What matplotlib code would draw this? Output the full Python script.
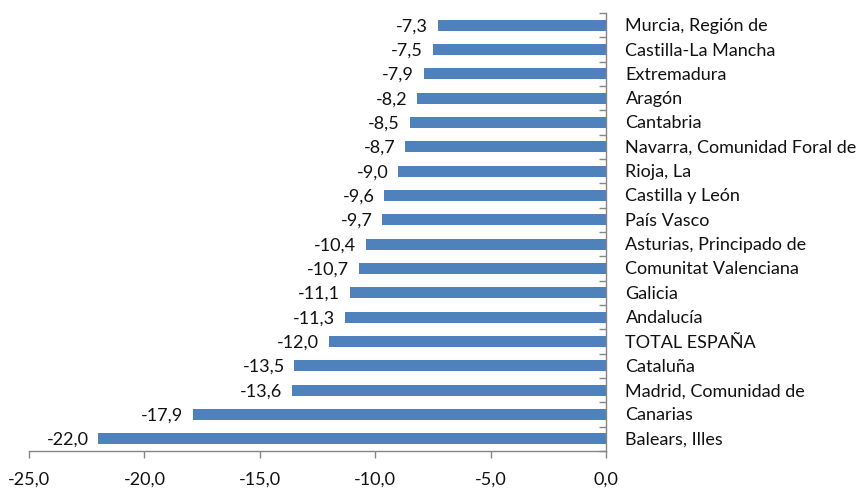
import matplotlib.pyplot as plt
import numpy as np

regions = ["Murcia, Región de", "Castilla-La Mancha", "Extremadura", "Aragón", "Cantabria",
           "Navarra, Comunidad Foral de", "Rioja, La", "Castilla y León", "País Vasco",
           "Asturias, Principado de", "Comunitat Valenciana", "Galicia", "Andalucía",
           "TOTAL ESPAÑA", "Cataluña", "Madrid, Comunidad de", "Canarias", "Balears, Illes"]
values = [-7.3, -7.5, -7.9, -8.2, -8.5, -8.7, -9.0, -9.6, -9.7,
          -10.4, -10.7, -11.1, -11.3, -12.0, -13.5, -13.6, -17.9, -22.0]
xticks = [-25, -20, -15, -10, -5, 0]

plt.rcParams['font.family'] = ['Lato', 'DejaVu Sans']
fs = 13

fig = plt.figure(figsize=(8.57, 4.89), dpi=100)
ax = fig.add_axes([29/857, 1 - 452/489, (606 - 29)/857, (452 - 14)/489])

n = len(regions)
y = np.arange(n)
ax.barh(y, values, height=0.46, color='#4F81BD', zorder=2)
ax.set_ylim(n - 0.5, -0.5)
ax.set_xlim(-25, 0)

for yi, v, name in zip(y, values, regions):
    ax.annotate(f"{v:.1f}".replace('.', ','), (v, yi), xytext=(-7, 0), textcoords='offset points',
                ha='right', va='center', fontsize=fs, color='#111111')
    ax.annotate(name, (0, yi), xytext=(14, 0), textcoords='offset points',
                ha='left', va='center', fontsize=fs, color='#111111', annotation_clip=False)

ax.set_xticks(xticks)
ax.set_xticklabels([f"{t:.1f}".replace('.', ',') for t in xticks], fontsize=fs, color='#111111')
ax.tick_params(axis='x', length=5, width=1, color='#868686', pad=9)

ax.yaxis.tick_right()
ax.set_yticks(np.arange(n + 1) - 0.5)
ax.set_yticklabels([])
ax.tick_params(axis='y', direction='in', length=5, width=1, color='#868686')

for s in ['top', 'left']:
    ax.spines[s].set_visible(False)
for s in ['bottom', 'right']:
    ax.spines[s].set_color('#868686')
    ax.spines[s].set_linewidth(1)

fig.savefig('out.png', dpi=100)
